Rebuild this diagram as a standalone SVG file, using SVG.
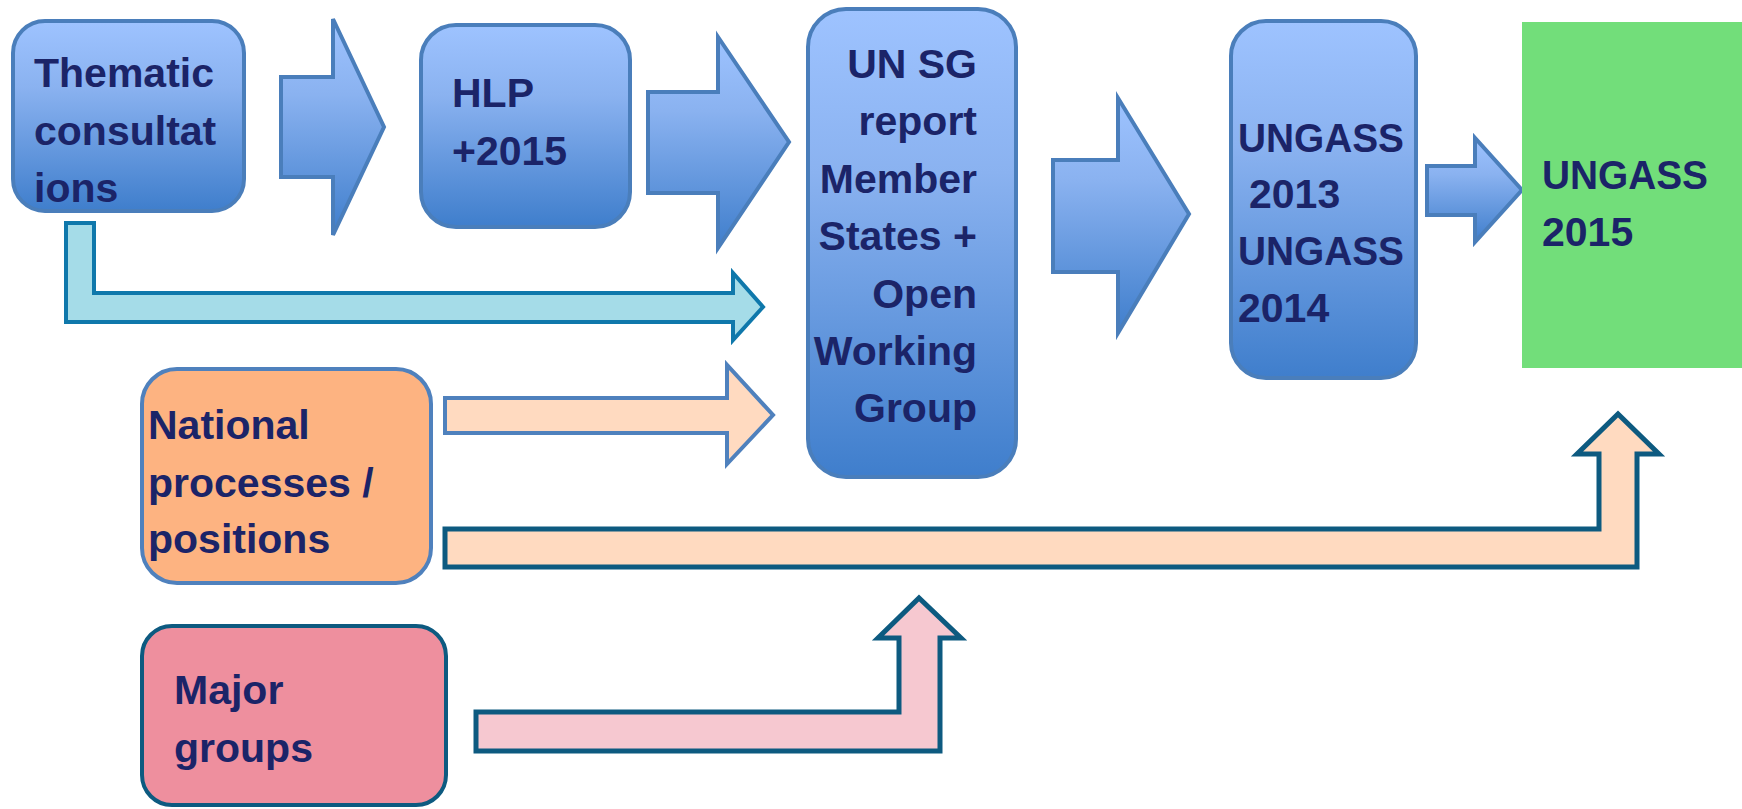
<svg xmlns="http://www.w3.org/2000/svg" width="1742" height="809" viewBox="0 0 1742 809">
<defs>
<linearGradient id="bg" x1="0" y1="0" x2="0" y2="1">
<stop offset="0" stop-color="#9EC3FF"/>
<stop offset="0.35" stop-color="#8AB2F0"/>
<stop offset="1" stop-color="#3F7ECC"/>
</linearGradient>
<style>
.blue{fill:url(#bg);stroke:#4A7EBB;stroke-width:4}
.t{font-family:"Liberation Sans",Arial,sans-serif;font-weight:bold;font-size:41px;fill:#1B2468}
.tr{text-anchor:end}
</style>
</defs>
<rect width="1742" height="809" fill="#FFFFFF"/>
<g id="connectors">
<path class="blue" d="M281,77 H333 V19 L384,127 L333,235 V177 H281 Z"/>
<path class="blue" d="M648,92 H718 V37 L789,142 L718,248 V193 H648 Z"/>
<path class="blue" d="M1053,160 H1118 V98 L1189,214 L1118,333 V272 H1053 Z"/>
<path class="blue" d="M1427,166 H1475 V138 L1522,190 L1475,242 V215 H1427 Z"/>
<path d="M66,223 H94 V293 H733 V273 L763,307 L733,340 V322 H66 Z" fill="#A5DCE8" stroke="#0F78AB" stroke-width="4"/>
<path d="M445,398 H727 V365 L773,415 L727,464 V433 H445 Z" fill="#FFDAC0" stroke="#4F81BD" stroke-width="4"/>
<path d="M445,529 H1599 V454 H1577 L1618,414 L1659,454 H1637 V567 H445 Z" fill="#FFDAC0" stroke="#0D5A80" stroke-width="5"/>
<path d="M476,712 H899 V638 H878 L919,598 L961,638 H940 V751 H476 Z" fill="#F6C8D0" stroke="#0D5A80" stroke-width="5"/>
</g>
<g id="thematic">
<rect class="blue" x="13" y="21" width="231" height="190" rx="32"/>
<text class="t" x="34" y="87">Thematic</text>
<text class="t" x="34" y="145">consultat</text>
<text class="t" x="34" y="202">ions</text>
</g>
<g id="hlp">
<rect class="blue" x="421" y="25" width="209" height="202" rx="35"/>
<text class="t" x="452" y="107">HLP</text>
<text class="t" x="452" y="165">+2015</text>
</g>
<g id="unsg">
<rect class="blue" x="808" y="9" width="208" height="468" rx="38"/>
<text class="t tr" x="977" y="78">UN SG</text>
<text class="t tr" x="977" y="135">report</text>
<text class="t tr" x="977" y="193">Member</text>
<text class="t tr" x="977" y="250">States +</text>
<text class="t tr" x="977" y="308">Open</text>
<text class="t tr" x="977" y="365">Working</text>
<text class="t tr" x="977" y="422">Group</text>
</g>
<g id="ungass1314">
<rect class="blue" x="1231" y="21" width="185" height="357" rx="35"/>
<text class="t" x="1238" y="152" textLength="166" lengthAdjust="spacingAndGlyphs">UNGASS</text>
<text class="t" x="1249" y="208">2013</text>
<text class="t" x="1238" y="265" textLength="166" lengthAdjust="spacingAndGlyphs">UNGASS</text>
<text class="t" x="1238" y="322">2014</text>
</g>
<g id="ungass2015">
<rect x="1522" y="22" width="220" height="346" fill="#72DE7A"/>
<text class="t" x="1542" y="189" textLength="166" lengthAdjust="spacingAndGlyphs">UNGASS</text>
<text class="t" x="1542" y="246">2015</text>
</g>
<g id="national">
<rect x="142" y="369" width="289" height="214" rx="35" fill="#FDB381" stroke="#4F81BD" stroke-width="4"/>
<text class="t" x="148" y="439">National</text>
<text class="t" x="148" y="497">processes /</text>
<text class="t" x="148" y="553">positions</text>
</g>
<g id="major">
<rect x="142" y="626" width="304" height="179" rx="30" fill="#EE8F9E" stroke="#0D5A80" stroke-width="4"/>
<text class="t" x="174" y="704">Major</text>
<text class="t" x="174" y="762">groups</text>
</g>
</svg>
